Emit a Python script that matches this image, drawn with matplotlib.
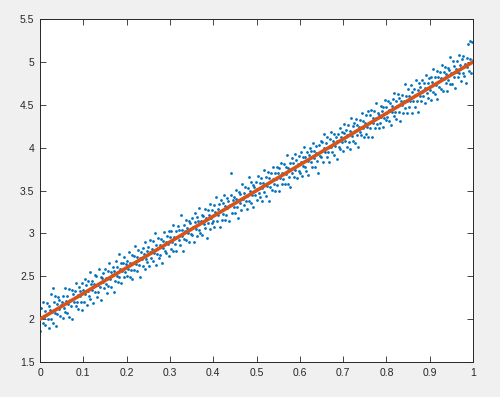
import matplotlib
matplotlib.use("Agg")
from matplotlib import pyplot as plt

# scatter points, one row per 0.05 slice of x
x = [
    0.001, 0.003, 0.004, 0.006, 0.008, 0.009, 0.011, 0.012, 0.014, 0.017, 0.018, 0.020, 0.021, 0.023, 0.025,
    0.026, 0.028, 0.030, 0.031, 0.032, 0.034, 0.035, 0.037, 0.039, 0.040, 0.042, 0.044, 0.045, 0.047, 0.049,
    0.050, 0.052, 0.053, 0.055, 0.057, 0.058, 0.060, 0.062, 0.063, 0.065, 0.067, 0.068, 0.070, 0.072, 0.073,
    0.075, 0.077, 0.078, 0.080, 0.082, 0.083, 0.085, 0.087, 0.088, 0.090, 0.092, 0.093, 0.095, 0.097, 0.098,
    0.100, 0.101, 0.103, 0.105, 0.106, 0.108, 0.110, 0.111, 0.113, 0.115, 0.116, 0.118, 0.120, 0.121, 0.123,
    0.125, 0.126, 0.128, 0.130, 0.131, 0.133, 0.135, 0.136, 0.138, 0.140, 0.141, 0.143, 0.145, 0.146, 0.148,
    0.150, 0.152, 0.153, 0.155, 0.157, 0.158, 0.160, 0.162, 0.163, 0.165, 0.167, 0.168, 0.170, 0.172, 0.173,
    0.175, 0.177, 0.178, 0.180, 0.182, 0.183, 0.185, 0.187, 0.188, 0.190, 0.192, 0.193, 0.195, 0.197, 0.198,
    0.200, 0.202, 0.203, 0.205, 0.207, 0.208, 0.210, 0.212, 0.213, 0.215, 0.217, 0.218, 0.220, 0.222, 0.223,
    0.225, 0.227, 0.228, 0.230, 0.232, 0.233, 0.235, 0.237, 0.238, 0.240, 0.242, 0.243, 0.245, 0.247, 0.248,
    0.250, 0.252, 0.253, 0.255, 0.257, 0.258, 0.260, 0.262, 0.263, 0.265, 0.267, 0.268, 0.270, 0.272, 0.273,
    0.275, 0.277, 0.278, 0.280, 0.282, 0.283, 0.285, 0.287, 0.288, 0.290, 0.292, 0.293, 0.295, 0.297, 0.298,
    0.300, 0.302, 0.303, 0.305, 0.307, 0.308, 0.310, 0.312, 0.313, 0.315, 0.317, 0.318, 0.320, 0.322, 0.323,
    0.325, 0.327, 0.328, 0.330, 0.332, 0.333, 0.335, 0.337, 0.338, 0.340, 0.342, 0.343, 0.345, 0.347, 0.348,
    0.350, 0.352, 0.353, 0.355, 0.357, 0.358, 0.360, 0.362, 0.363, 0.365, 0.367, 0.368, 0.370, 0.372, 0.373,
    0.375, 0.377, 0.378, 0.380, 0.382, 0.383, 0.385, 0.387, 0.388, 0.390, 0.392, 0.393, 0.395, 0.397, 0.398,
    0.400, 0.402, 0.403, 0.405, 0.407, 0.408, 0.410, 0.412, 0.413, 0.415, 0.417, 0.418, 0.420, 0.422, 0.423,
    0.425, 0.427, 0.428, 0.430, 0.432, 0.433, 0.435, 0.437, 0.438, 0.440, 0.442, 0.443, 0.445, 0.447, 0.448,
    0.450, 0.452, 0.453, 0.455, 0.457, 0.458, 0.460, 0.462, 0.463, 0.465, 0.467, 0.468, 0.470, 0.472, 0.473,
    0.475, 0.477, 0.478, 0.480, 0.482, 0.483, 0.485, 0.487, 0.488, 0.490, 0.492, 0.493, 0.495, 0.497, 0.498,
    0.500, 0.502, 0.503, 0.505, 0.507, 0.508, 0.510, 0.512, 0.513, 0.515, 0.517, 0.518, 0.520, 0.522, 0.523,
    0.525, 0.527, 0.528, 0.530, 0.532, 0.533, 0.535, 0.537, 0.538, 0.540, 0.542, 0.543, 0.545, 0.547, 0.548,
    0.550, 0.552, 0.553, 0.555, 0.557, 0.558, 0.560, 0.562, 0.563, 0.565, 0.567, 0.568, 0.570, 0.572, 0.573,
    0.575, 0.577, 0.578, 0.580, 0.582, 0.583, 0.585, 0.587, 0.588, 0.590, 0.592, 0.593, 0.595, 0.597, 0.598,
    0.600, 0.602, 0.603, 0.605, 0.607, 0.608, 0.610, 0.612, 0.613, 0.615, 0.617, 0.618, 0.620, 0.622, 0.623,
    0.625, 0.627, 0.628, 0.630, 0.632, 0.633, 0.635, 0.637, 0.638, 0.640, 0.642, 0.643, 0.645, 0.647, 0.648,
    0.650, 0.652, 0.653, 0.655, 0.657, 0.658, 0.660, 0.662, 0.663, 0.665, 0.667, 0.668, 0.670, 0.672, 0.673,
    0.675, 0.677, 0.678, 0.680, 0.682, 0.683, 0.685, 0.687, 0.688, 0.690, 0.692, 0.693, 0.695, 0.697, 0.698,
    0.700, 0.702, 0.703, 0.705, 0.707, 0.708, 0.710, 0.712, 0.713, 0.715, 0.717, 0.718, 0.720, 0.722, 0.723,
    0.725, 0.727, 0.728, 0.730, 0.732, 0.733, 0.735, 0.737, 0.738, 0.740, 0.742, 0.743, 0.745, 0.747, 0.748,
    0.750, 0.752, 0.753, 0.755, 0.757, 0.758, 0.760, 0.762, 0.763, 0.765, 0.767, 0.768, 0.770, 0.772, 0.773,
    0.775, 0.777, 0.778, 0.780, 0.782, 0.783, 0.785, 0.787, 0.788, 0.790, 0.792, 0.793, 0.795, 0.797, 0.798,
    0.800, 0.802, 0.803, 0.805, 0.807, 0.808, 0.810, 0.812, 0.813, 0.815, 0.817, 0.818, 0.820, 0.822, 0.823,
    0.825, 0.827, 0.828, 0.830, 0.832, 0.833, 0.835, 0.837, 0.838, 0.840, 0.842, 0.843, 0.845, 0.847, 0.848,
    0.850, 0.852, 0.853, 0.855, 0.857, 0.858, 0.860, 0.862, 0.863, 0.865, 0.867, 0.868, 0.870, 0.872, 0.873,
    0.875, 0.877, 0.878, 0.880, 0.882, 0.883, 0.885, 0.887, 0.888, 0.890, 0.892, 0.893, 0.895, 0.897, 0.898,
    0.900, 0.902, 0.903, 0.905, 0.907, 0.908, 0.910, 0.912, 0.913, 0.915, 0.917, 0.918, 0.920, 0.922, 0.923,
    0.925, 0.927, 0.928, 0.930, 0.932, 0.933, 0.935, 0.937, 0.938, 0.940, 0.942, 0.943, 0.945, 0.947, 0.948,
    0.950, 0.952, 0.953, 0.955, 0.957, 0.958, 0.960, 0.962, 0.963, 0.965, 0.967, 0.968, 0.970, 0.972, 0.973,
    0.975, 0.977, 0.978, 0.980, 0.982, 0.983, 0.985, 0.987, 0.988, 0.990, 0.992, 0.993, 0.995, 0.997, 0.999,
]
y = [
    1.86, 2.13, 2.02, 1.95, 2.20, 2.01, 2.10, 1.93, 2.05, 2.19, 2.00, 2.15, 1.90, 2.11, 2.29,
    2.00, 2.08, 2.36, 1.96, 2.20, 2.07, 2.27, 1.92, 2.18, 2.06, 2.26, 2.12, 2.22, 2.04, 2.17,
    2.20, 2.01, 2.27, 2.13, 2.36, 2.08, 2.21, 2.07, 2.27, 2.18, 2.35, 2.03, 2.22, 2.15, 2.34,
    2.00, 2.29, 2.20, 2.33, 2.15, 2.42, 2.20, 2.28, 2.12, 2.37, 2.27, 2.33, 2.20, 2.42, 2.11,
    2.34, 2.20, 2.47, 2.29, 2.40, 2.17, 2.33, 2.45, 2.27, 2.55, 2.24, 2.41, 2.34, 2.45, 2.19,
    2.41, 2.52, 2.32, 2.50, 2.26, 2.40, 2.32, 2.58, 2.37, 2.49, 2.22, 2.48, 2.43, 2.54, 2.36,
    2.58, 2.41, 2.48, 2.31, 2.56, 2.39, 2.66, 2.47, 2.55, 2.38, 2.51, 2.61, 2.32, 2.56, 2.45,
    2.68, 2.50, 2.61, 2.43, 2.76, 2.49, 2.59, 2.42, 2.66, 2.56, 2.65, 2.49, 2.73, 2.55, 2.64,
    2.50, 2.68, 2.59, 2.78, 2.49, 2.65, 2.57, 2.75, 2.47, 2.65, 2.74, 2.57, 2.85, 2.64, 2.72,
    2.56, 2.81, 2.63, 2.71, 2.49, 2.78, 2.70, 2.83, 2.62, 2.76, 2.58, 2.90, 2.70, 2.80, 2.67,
    2.84, 2.62, 2.78, 2.92, 2.71, 2.82, 2.68, 2.91, 2.77, 3.00, 2.63, 2.87, 2.76, 2.83, 2.95,
    2.71, 2.87, 2.75, 2.94, 2.66, 2.91, 2.83, 3.02, 2.79, 2.90, 2.77, 2.97, 2.88, 3.03, 2.74,
    2.96, 2.82, 3.03, 2.90, 3.10, 2.79, 2.96, 2.88, 3.03, 2.79, 2.96, 3.09, 2.92, 3.04, 2.86,
    3.22, 2.97, 3.04, 2.79, 3.10, 2.93, 3.03, 3.16, 2.92, 3.06, 3.00, 3.14, 2.90, 3.12, 2.99,
    3.18, 2.98, 3.07, 2.90, 3.13, 3.24, 3.05, 3.19, 2.97, 3.14, 3.04, 3.30, 3.01, 3.14, 3.21,
    2.98, 3.20, 3.11, 3.28, 3.06, 3.18, 2.95, 3.27, 3.12, 3.22, 3.05, 3.34, 3.18, 3.27, 3.12,
    3.15, 3.33, 3.07, 3.25, 3.42, 3.14, 3.29, 3.22, 3.34, 3.07, 3.26, 3.39, 3.16, 3.35, 3.23,
    3.45, 3.16, 3.32, 3.22, 3.41, 3.30, 3.38, 3.15, 3.33, 3.45, 3.70, 3.24, 3.39, 3.31, 3.43,
    3.24, 3.40, 3.51, 3.31, 3.39, 3.18, 3.48, 3.36, 3.46, 3.27, 3.58, 3.40, 3.47, 3.33, 3.54,
    3.38, 3.44, 3.28, 3.53, 3.66, 3.38, 3.49, 3.35, 3.60, 3.45, 3.56, 3.31, 3.54, 3.45, 3.60,
    3.52, 3.39, 3.67, 3.47, 3.59, 3.43, 3.65, 3.53, 3.38, 3.59, 3.74, 3.48, 3.57, 3.44, 3.66,
    3.55, 3.72, 3.38, 3.65, 3.54, 3.71, 3.51, 3.64, 3.78, 3.58, 3.71, 3.49, 3.64, 3.77, 3.56,
    3.70, 3.49, 3.76, 3.65, 3.82, 3.58, 3.71, 3.64, 3.81, 3.58, 3.77, 3.69, 3.91, 3.58, 3.76,
    3.66, 3.82, 3.54, 3.75, 3.88, 3.71, 3.82, 3.66, 3.93, 3.74, 3.86, 3.65, 3.81, 3.90, 3.73,
    3.71, 3.95, 3.83, 3.67, 3.89, 3.79, 4.01, 3.77, 3.89, 3.73, 3.95, 3.85, 3.68, 3.91, 4.00,
    3.83, 3.96, 3.78, 4.05, 3.88, 3.96, 3.77, 3.94, 4.02, 3.84, 3.93, 3.71, 4.03, 3.90, 4.08,
    3.89, 4.07, 3.83, 4.00, 4.16, 3.95, 4.05, 3.89, 4.13, 3.95, 4.01, 3.83, 4.10, 4.01, 4.18,
    3.95, 4.08, 3.91, 4.16, 4.02, 4.12, 3.87, 4.08, 4.16, 4.01, 4.23, 3.99, 4.13, 4.07, 4.18,
    3.96, 4.17, 4.28, 4.08, 4.21, 4.01, 4.15, 4.27, 4.07, 3.99, 4.20, 4.35, 4.14, 4.25, 4.08,
    4.29, 4.05, 4.19, 4.34, 4.15, 4.26, 4.01, 4.24, 4.18, 4.32, 4.15, 4.41, 4.23, 4.31, 4.12,
    4.29, 4.16, 4.38, 4.24, 4.43, 4.12, 4.29, 4.38, 4.23, 4.44, 4.12, 4.35, 4.29, 4.43, 4.23,
    4.35, 4.52, 4.28, 4.41, 4.23, 4.38, 4.29, 4.49, 4.36, 4.43, 4.24, 4.48, 4.35, 4.56, 4.32,
    4.48, 4.36, 4.55, 4.31, 4.44, 4.52, 4.26, 4.49, 4.42, 4.57, 4.37, 4.64, 4.42, 4.54, 4.34,
    4.49, 4.63, 4.42, 4.58, 4.31, 4.54, 4.50, 4.62, 4.41, 4.55, 4.74, 4.46, 4.60, 4.40, 4.54,
    4.68, 4.47, 4.60, 4.55, 4.73, 4.41, 4.65, 4.54, 4.69, 4.48, 4.62, 4.79, 4.54, 4.67, 4.42,
    4.75, 4.60, 4.71, 4.54, 4.79, 4.65, 4.60, 4.75, 4.52, 4.70, 4.85, 4.64, 4.75, 4.58, 4.81,
    4.67, 4.83, 4.56, 4.77, 4.65, 4.92, 4.74, 4.63, 4.83, 4.73, 4.90, 4.57, 4.82, 4.71, 4.88,
    4.69, 4.81, 4.96, 4.66, 4.88, 4.80, 4.94, 4.76, 4.86, 4.66, 4.93, 4.79, 4.91, 5.06, 4.74,
    4.87, 4.74, 5.01, 4.82, 4.95, 4.70, 4.92, 4.88, 5.01, 4.82, 5.08, 4.87, 4.97, 4.78, 4.93,
    5.03, 4.87, 5.07, 4.84, 4.98, 4.76, 5.05, 4.94, 5.21, 4.90, 5.24, 5.03, 4.87, 5.23, 5.02,
]

# fitted line end points
fit_x = [0.0, 1.0]
fit_y = [2.0, 5.0]

xticks = [0, 0.1, 0.2, 0.3, 0.4, 0.5, 0.6, 0.7, 0.8, 0.9, 1]
xlabels = ["0", "0.1", "0.2", "0.3", "0.4", "0.5", "0.6", "0.7", "0.8", "0.9", "1"]
yticks = [1.5, 2, 2.5, 3, 3.5, 4, 4.5, 5, 5.5]
ylabels = ["1.5", "2", "2.5", "3", "3.5", "4", "4.5", "5", "5.5"]

plt.rcParams['font.family'] = ['Liberation Sans', 'DejaVu Sans']

fig = plt.figure(figsize=(5, 3.97), dpi=100, facecolor="#f0f0f0")
ax = fig.add_axes([0.08, 0.088, 0.866, 0.864])
ax.set_facecolor("white")

ax.scatter(x, y, s=4, marker="o", color="#0072BD", linewidths=0, zorder=2)
ax.plot(fit_x, fit_y, color="#D95319", linewidth=2.6, zorder=3)

ax.set_xlim(0, 1)
ax.set_ylim(1.5, 5.5)
ax.set_xticks(xticks)
ax.set_xticklabels(xlabels)
ax.set_yticks(yticks)
ax.set_yticklabels(ylabels)
ax.tick_params(direction="in", length=4, width=0.6, top=True, right=True,
               labelsize=7.5, colors="#262626", pad=4)
for s in ax.spines.values():
    s.set_color("#262626")
    s.set_linewidth(0.7)

fig.savefig("out.png", dpi=100, facecolor=fig.get_facecolor())
